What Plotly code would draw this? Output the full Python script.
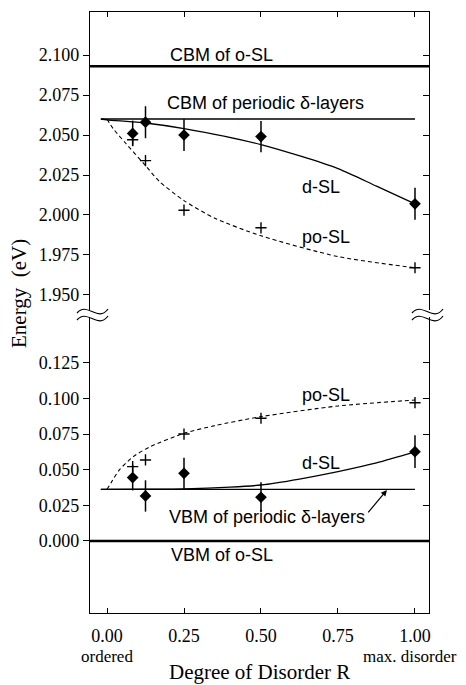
import plotly.graph_objects as go

# ---------------- data ----------------
x_ticks = [0.0, 0.25, 0.5, 0.75, 1.0]
x_tick_labels = ["0.00", "0.25", "0.50", "0.75", "1.00"]
upper_ticks = [1.950, 1.975, 2.000, 2.025, 2.050, 2.075, 2.100]
upper_tick_labels = ["1.950", "1.975", "2.000", "2.025", "2.050", "2.075", "2.100"]
lower_ticks = [0.000, 0.025, 0.050, 0.075, 0.100, 0.125]
lower_tick_labels = ["0.000", "0.025", "0.050", "0.075", "0.100", "0.125"]

# measured disorder values R
R_meas = [1 / 12, 0.125, 0.25, 0.5, 1.0]

# conduction band minimum (upper panel)
cbm_dsl = [2.051, 2.058, 2.050, 2.049, 2.007]
cbm_dsl_err = [0.008, 0.010, 0.010, 0.0098, 0.010]
cbm_posl = [2.047, 2.034, 2.003, 1.992, 1.967]

# valence band maximum (lower panel)
vbm_dsl = [0.0445, 0.0316, 0.0475, 0.0307, 0.0627]
vbm_dsl_err = [0.009, 0.011, 0.011, 0.0105, 0.0115]
vbm_posl = [0.0522, 0.0569, 0.0751, 0.0862, 0.0971]

# guide-to-the-eye curves
cbm_dsl_fit_R = [-0.02, 0.0, 0.125, 0.25, 0.5, 0.75, 0.875, 1.0]
cbm_dsl_fit_E = [2.060, 2.0595, 2.0575, 2.054, 2.044, 2.029, 2.018, 2.007]
cbm_posl_fit_R = [0.0, 0.02, 0.06, 0.12, 0.17, 0.25, 0.35, 0.5, 0.75, 1.0]
cbm_posl_fit_E = [2.060, 2.054, 2.045, 2.032, 2.021, 2.009, 1.998, 1.987, 1.974, 1.967]
vbm_dsl_fit_R = [-0.02, 0.125, 0.25, 0.4, 0.5, 0.625, 0.75, 0.875, 1.0]
vbm_dsl_fit_E = [0.0363, 0.0364, 0.0366, 0.0378, 0.0393, 0.0435, 0.0487, 0.0548, 0.0625]
vbm_posl_fit_R = [0.0, 0.015, 0.04, 0.085, 0.14, 0.25, 0.35, 0.5, 0.75, 1.0]
vbm_posl_fit_E = [0.0363, 0.0415, 0.0499, 0.0592, 0.0662, 0.0756, 0.081, 0.0873, 0.0948, 0.099]

# reference levels
periodic_R = [-0.02, 1.0]
cbm_periodic = 2.060
vbm_periodic = 0.0363
cbm_osl = 2.093
vbm_osl = 0.000

# ---------------- geometry ----------------
# the page body has an 8px margin, so the figure is drawn 8px in from the window edge
OFF = 8
WIN_W, WIN_H = 466, 685
W, H = WIN_W - OFF, WIN_H - OFF
# plot-area edges in window pixels
X_LEFT, X_RIGHT, Y_TOP, Y_BOT = 90, 429, 12, 613
ML, MR, MT, MB = X_LEFT - OFF, W - (X_RIGHT - OFF), Y_TOP - OFF, H - (Y_BOT - OFF)
PW, PH = X_RIGHT - X_LEFT, Y_BOT - Y_TOP


def px(xw):
    return (xw - X_LEFT) / PW


def py(yw):
    return (Y_BOT - yw) / PH


SERIF = "Liberation Serif, Times New Roman, serif"
SANS = "Liberation Sans, Arial, Helvetica, sans-serif"
BLACK = "#000000"

fig = go.Figure()


def add_panel(xa, ya, dsl, dsl_err, posl, dfit_R, dfit_E, pfit_R, pfit_E, periodic):
    fig.add_trace(go.Scatter(x=periodic_R, y=[periodic, periodic], mode="lines",
                             line=dict(color=BLACK, width=1.3), xaxis=xa, yaxis=ya,
                             showlegend=False, hoverinfo="skip"))
    fig.add_trace(go.Scatter(x=dfit_R, y=dfit_E, mode="lines",
                             line=dict(color=BLACK, width=1.3, shape="spline", smoothing=0.7),
                             xaxis=xa, yaxis=ya, showlegend=False, hoverinfo="skip"))
    fig.add_trace(go.Scatter(x=pfit_R, y=pfit_E, mode="lines",
                             line=dict(color=BLACK, width=1.1, dash="4px,3px",
                                       shape="spline", smoothing=0.7),
                             xaxis=xa, yaxis=ya, showlegend=False, hoverinfo="skip"))
    fig.add_trace(go.Scatter(x=R_meas, y=posl, mode="markers",
                             marker=dict(symbol="cross-thin", size=8, color=BLACK,
                                         line=dict(color=BLACK, width=1.4)),
                             xaxis=xa, yaxis=ya, showlegend=False))
    fig.add_trace(go.Scatter(x=R_meas, y=dsl, mode="markers",
                             marker=dict(symbol="diamond", size=9, color=BLACK),
                             error_y=dict(type="data", array=dsl_err, visible=True,
                                          width=0, thickness=1.5, color=BLACK),
                             xaxis=xa, yaxis=ya, showlegend=False))


add_panel("x2", "y2", cbm_dsl, cbm_dsl_err, cbm_posl, cbm_dsl_fit_R, cbm_dsl_fit_E,
          cbm_posl_fit_R, cbm_posl_fit_E, cbm_periodic)
add_panel("x", "y", vbm_dsl, vbm_dsl_err, vbm_posl, vbm_dsl_fit_R, vbm_dsl_fit_E,
          vbm_posl_fit_R, vbm_posl_fit_E, vbm_periodic)

# empty traces so the mirrored right-hand axes are drawn
fig.add_trace(go.Scatter(x=[], y=[], xaxis="x", yaxis="y3", showlegend=False, hoverinfo="skip"))
fig.add_trace(go.Scatter(x=[], y=[], xaxis="x2", yaxis="y4", showlegend=False, hoverinfo="skip"))

# thick o-SL band-edge lines
fig.add_shape(type="line", xref="x domain", x0=0, x1=1, yref="y2", y0=cbm_osl, y1=cbm_osl,
              line=dict(color=BLACK, width=2.5))
fig.add_shape(type="line", xref="x domain", x0=0, x1=1, yref="y", y0=vbm_osl, y1=vbm_osl,
              line=dict(color=BLACK, width=2.5))


# axis break symbols (≈)
def wave(xc, yc, dx0, dx1):
    pts = [(xc + dx0, yc + 2), (xc + dx0 + 10, yc - 10), (xc + dx1 - 10, yc + 12), (xc + dx1, yc - 2)]
    p = [(px(a), py(b)) for a, b in pts]
    return "M {:.5f} {:.5f} C {:.5f} {:.5f}, {:.5f} {:.5f}, {:.5f} {:.5f}".format(
        p[0][0], p[0][1], p[1][0], p[1][1], p[2][0], p[2][1], p[3][0], p[3][1])


for xc, d0, d1 in [(X_LEFT, -13, 18), (X_RIGHT, -17, 14)]:
    for yc in (311, 318):
        fig.add_shape(type="path", xref="paper", yref="paper", path=wave(xc, yc, d0, d1),
                      line=dict(color=BLACK, width=1.2))

axis_common = dict(showgrid=False, zeroline=False, showline=True, linecolor=BLACK,
                   linewidth=1.3, tickcolor=BLACK, tickwidth=1.2,
                   tickfont=dict(family=SERIF, size=18, color=BLACK))

xr = [-0.0552, 1.0455]
yr_low = [-0.0506, 0.1573]
yr_up = [1.9406, 2.1269]
dom_low = [0, py(317)]
dom_up = [py(310), 1]

fig.update_layout(
    width=W, height=H,
    margin=dict(l=ML, r=MR, t=MT, b=MB),
    paper_bgcolor="white", plot_bgcolor="white",
    hovermode=False,
    xaxis=dict(axis_common, range=xr, domain=[0, 1], anchor="y", tickvals=x_ticks,
               ticktext=x_tick_labels, ticks="inside", ticklen=5, ticklabelstandoff=6),
    xaxis2=dict(axis_common, range=xr, domain=[0, 1], anchor="y2", side="top",
                tickvals=x_ticks, ticks="inside", ticklen=5, showticklabels=False),
    yaxis=dict(axis_common, range=yr_low, domain=dom_low, anchor="x", tickvals=lower_ticks,
               ticktext=lower_tick_labels, ticks="outside", ticklen=6),
    yaxis2=dict(axis_common, range=yr_up, domain=dom_up, anchor="x2", tickvals=upper_ticks,
                ticktext=upper_tick_labels, ticks="outside", ticklen=6),
    yaxis3=dict(axis_common, range=yr_low, overlaying="y", side="right", anchor="x",
                tickvals=lower_ticks, ticks="inside", ticklen=6, showticklabels=False),
    yaxis4=dict(axis_common, range=yr_up, overlaying="y2", side="right", anchor="x2",
                tickvals=upper_ticks, ticks="inside", ticklen=6, showticklabels=False),
)

lab = dict(family=SANS, size=18, color=BLACK)
annots = [
    ("CBM of o-SL", 0.373, 2.100, "x2", "y2"),
    ("CBM of periodic δ-layers", 0.516, 2.070, "x2", "y2"),
    ("d-SL", 0.694, 2.0177, "x2", "y2"),
    ("po-SL", 0.71, 1.9864, "x2", "y2"),
    ("po-SL", 0.71, 0.1025, "x", "y"),
    ("d-SL", 0.694, 0.0546, "x", "y"),
    ("VBM of periodic δ-layers", 0.52, 0.0169, "x", "y"),
    ("VBM of o-SL", 0.373, -0.0098, "x", "y"),
]
for t, x, y, xr_, yr_ in annots:
    fig.add_annotation(text=t, x=x, y=y, xref=xr_, yref=yr_, showarrow=False, font=lab,
                       xanchor="center", yanchor="middle")

# arrow to the periodic VBM line
fig.add_annotation(text="", x=0.909, y=0.0358, xref="x", yref="y", ax=0.844, ay=0.019,
                   axref="x", ayref="y", showarrow=True, arrowhead=2, arrowsize=1,
                   arrowwidth=1.2, arrowcolor=BLACK)

# x-axis end notes and titles
fig.add_annotation(text="ordered", x=0.0, y=py(656), xref="x", yref="paper", showarrow=False,
                   font=dict(family=SERIF, size=17, color=BLACK), xanchor="center", yanchor="middle")
fig.add_annotation(text="max. disorder", x=0.984, y=py(656), xref="x", yref="paper",
                   showarrow=False, font=dict(family=SERIF, size=17, color=BLACK),
                   xanchor="center", yanchor="middle")
fig.add_annotation(text="Degree of Disorder R", x=0.5, y=py(672), xref="paper", yref="paper",
                   showarrow=False, font=dict(family=SERIF, size=21, color=BLACK),
                   xanchor="center", yanchor="middle", borderpad=0)
fig.add_annotation(text="Energy  (eV)", x=px(19), y=py(294), xref="paper", yref="paper",
                   showarrow=False, textangle=-90, font=dict(family=SERIF, size=21, color=BLACK),
                   xanchor="center", yanchor="middle", borderpad=0)

fig.write_html("out.html")
